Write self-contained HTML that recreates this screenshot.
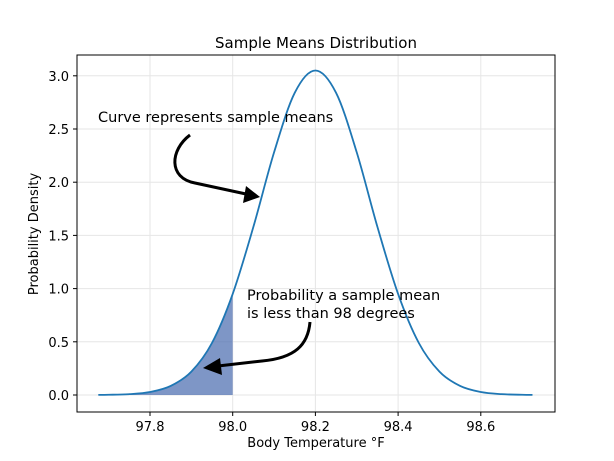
<!DOCTYPE html>
<html><head><meta charset="utf-8"><style>
body{margin:0;background:#fff}
svg{display:block;font-family:"DejaVu Sans","Liberation Sans",sans-serif}
</style></head><body>
<svg id="chart" width="614" height="461">
<rect width="614" height="461" fill="#fff"/>
<g id="grid"></g>
<path id="fill" fill="#4c6db0" fill-opacity="0.72"/>
<path id="curve" fill="none" stroke="#1f77b4" stroke-width="1.8"/>
<rect x="77" y="55" width="478" height="357" fill="none" stroke="#000" stroke-width="1"/>
<g id="ticks"></g>
<text x="316" y="48" text-anchor="middle" font-size="15">Sample Means Distribution</text>
<text x="316" y="447" text-anchor="middle" font-size="13">Body Temperature °F</text>
<text transform="translate(38,234) rotate(-90)" text-anchor="middle" font-size="13">Probability Density</text>
<text x="98" y="122" font-size="14.5">Curve represents sample means</text>
<path d="M190,135 C170,150 168,178 195,183 L246,194" fill="none" stroke="#000" stroke-width="3"/>
<polygon points="260,197 243,203 246,186" fill="#000"/>
<text x="247" y="300" font-size="14.5">Probability a sample mean</text>
<text x="247" y="318" font-size="14.5">is less than 98 degrees</text>
<path d="M310,322 C308,345 295,358 262,361 L218,366" fill="none" stroke="#000" stroke-width="3"/>
<polygon points="203,368 220,358 222,375" fill="#000"/>
</svg>
<script>
const xValues=[97.675,97.70,97.75,97.80,97.85,97.90,97.95,98.00,98.05,98.10,98.15,98.20,98.25,98.30,98.35,98.40,98.45,98.50,98.55,98.60,98.65,98.70,98.725];
const yValues=[0.001,0.002,0.008,0.028,0.085,0.22,0.49,0.95,1.58,2.28,2.84,3.05,2.84,2.28,1.58,0.95,0.49,0.22,0.085,0.028,0.008,0.002,0.001];
const shadeLimit=98.0;
const xTicks=[97.8,98.0,98.2,98.4,98.6];
const yTicks=[0,0.5,1.0,1.5,2.0,2.5,3.0];
const X=v=>150+(v-97.8)/0.2*82.7;
const Y=v=>395-v/0.5*53.2;
const NS='http://www.w3.org/2000/svg';
const grid=document.getElementById('grid'),ticks=document.getElementById('ticks');
function mk(tag,attrs,parent){const e=document.createElementNS(NS,tag);for(const k in attrs)e.setAttribute(k,attrs[k]);parent.appendChild(e);return e;}
xTicks.forEach(t=>{const x=X(t);
const g=mk('line',{x1:x,x2:x,y1:55,y2:412,stroke:'#e6e6e6','stroke-width':1},grid);


const l=mk('line',{x1:x,x2:x,y1:412,y2:416,stroke:'#000'},ticks);


const tx=mk('text',{x:x,y:431,'text-anchor':'middle','font-size':13},ticks);tx.textContent=t.toFixed(1);

});
yTicks.forEach(t=>{const y=Y(t);
const g=mk('line',{x1:77,x2:555,y1:y,y2:y,stroke:'#e6e6e6','stroke-width':1},grid);


const l=mk('line',{x1:73,x2:77,y1:y,y2:y,stroke:'#000'},ticks);


const tx=mk('text',{x:69,y:y+5,'text-anchor':'end','font-size':13},ticks);tx.textContent=t.toFixed(1);

});
function smooth(pts){let d='M'+pts[0][0]+','+pts[0][1];
for(let i=0;i<pts.length-1;i++){const p0=pts[Math.max(i-1,0)],p1=pts[i],p2=pts[i+1],p3=pts[Math.min(i+2,pts.length-1)];
const c1=[p1[0]+(p2[0]-p0[0])/6,p1[1]+(p2[1]-p0[1])/6],c2=[p2[0]-(p3[0]-p1[0])/6,p2[1]-(p3[1]-p1[1])/6];
d+=' C'+c1+' '+c2+' '+p2;}return d;}
const pts=xValues.map((x,i)=>[X(x),Y(yValues[i])]);
document.getElementById('curve').setAttribute('d',smooth(pts));
const sp=pts.filter((p,i)=>xValues[i]<=shadeLimit);
document.getElementById('fill').setAttribute('d',smooth(sp)+' L'+X(shadeLimit)+','+Y(0)+' L'+sp[0][0]+','+Y(0)+' Z');
</script>
</body></html>
